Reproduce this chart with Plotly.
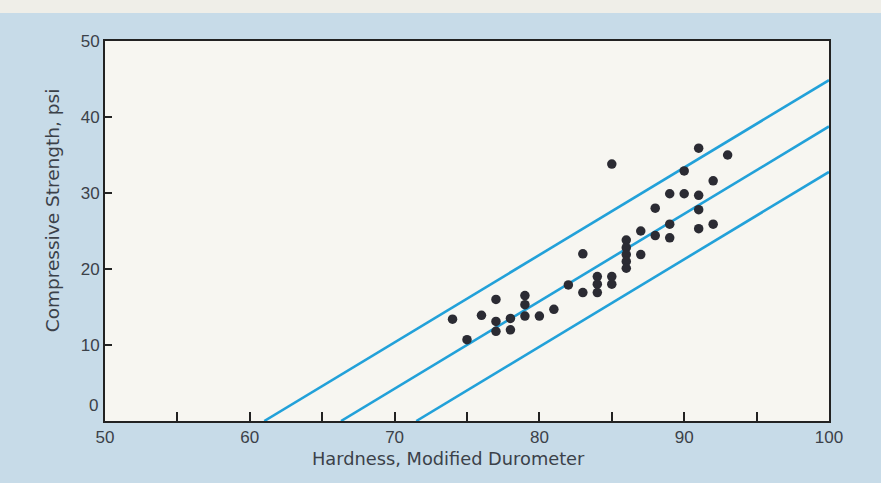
import plotly.graph_objects as go

# Hardness vs. compressive strength measurements
hardness = [74, 75, 76, 77, 77, 77, 78, 78, 79, 79, 79, 80, 81, 82, 83, 83,
            84, 84, 84, 85, 85, 85, 86, 86, 86, 86, 86, 87, 87, 88, 88,
            89, 89, 89, 90, 90, 91, 91, 91, 91, 92, 92, 93]
strength = [13.4, 10.7, 13.9, 16.0, 13.1, 11.8, 13.5, 12.0, 16.5, 15.3, 13.8,
            13.8, 14.7, 17.9, 22.0, 16.9, 19.0, 18.0, 16.9, 33.8, 19.0, 18.0,
            23.8, 22.8, 21.9, 21.0, 20.1, 25.0, 21.9, 28.0, 24.4, 29.9, 25.9,
            24.1, 32.9, 29.9, 35.9, 29.7, 27.8, 25.3, 31.6, 25.9, 35.0]

# Fitted line and its upper/lower bounds: strength = slope * (hardness - x0)
fit_slope = 1.15
fit_x0 = [61.0, 66.3, 71.5]
fit_xmax = 100

x_ticks = [50, 55, 60, 65, 70, 75, 80, 85, 90, 95, 100]
x_labels = ["50", "", "60", "", "70", "", "80", "", "90", "", "100"]
y_ticks = [10, 20, 30, 40, 50]
y_labels = ["10", "20", "30", "40", "50"]

x_title = "Hardness, Modified Durometer"
y_title = "Compressive Strength, psi"

BLUE_LINE = "#22a1d9"
TEXT = "#3b4149"
TICK_FONT = "Liberation Sans, Arial, sans-serif"
TITLE_FONT = "DejaVu Sans, sans-serif"

fig = go.Figure()

for x0 in fit_x0:
    fig.add_trace(go.Scatter(
        x=[x0, fit_xmax],
        y=[0, fit_slope * (fit_xmax - x0)],
        mode="lines",
        line=dict(color=BLUE_LINE, width=2.6),
        hoverinfo="skip",
        showlegend=False,
    ))

fig.add_trace(go.Scatter(
    x=hardness, y=strength, mode="markers",
    marker=dict(color="#2b2b33", size=9.5, line=dict(width=0)),
    showlegend=False,
))

fig.update_layout(
    width=881, height=483,
    margin=dict(l=105, r=52, t=41, b=62),
    paper_bgcolor="#c7dbe8",
    plot_bgcolor="#f7f6f1",
    font=dict(family=TICK_FONT, color=TEXT, size=17),
    shapes=[dict(type="rect", xref="paper", yref="paper",
                 x0=-0.2, x1=1.2, y0=1.074, y1=1.12,
                 fillcolor="#efeee8", line=dict(width=0))],
    annotations=[
        # zero label sits a little above the bottom axis
        dict(x=50, y=0, xref="x", yref="y", text="0",
             showarrow=False, xanchor="right", xshift=-5, yshift=16,
             font=dict(family=TICK_FONT, size=17, color=TEXT)),
        # axis titles
        dict(x=0.475, y=-0.098, xref="paper", yref="paper", text=x_title,
             showarrow=False, xanchor="center", yanchor="middle",
             font=dict(family=TITLE_FONT, size=17.8, color=TEXT)),
        dict(x=-0.073, y=0.555, xref="paper", yref="paper", text=y_title,
             showarrow=False, textangle=-90, xanchor="center", yanchor="middle",
             font=dict(family=TITLE_FONT, size=18.5, color=TEXT)),
    ],
)

fig.update_xaxes(
    range=[50, 100], tickvals=x_ticks, ticktext=x_labels,
    ticks="inside", ticklen=9, tickwidth=2, tickcolor="#222",
    tickfont=dict(family=TICK_FONT, size=17, color=TEXT),
    showline=True, linecolor="#222", linewidth=2, mirror=True,
    showgrid=False, zeroline=False,
)
fig.update_yaxes(
    range=[0, 50], tickvals=y_ticks, ticktext=y_labels,
    ticks="inside", ticklen=7, tickwidth=2, tickcolor="#222",
    tickfont=dict(family=TICK_FONT, size=17, color=TEXT),
    showline=True, linecolor="#222", linewidth=2, mirror=True,
    showgrid=False, zeroline=False,
)

fig.write_html("out.html")
